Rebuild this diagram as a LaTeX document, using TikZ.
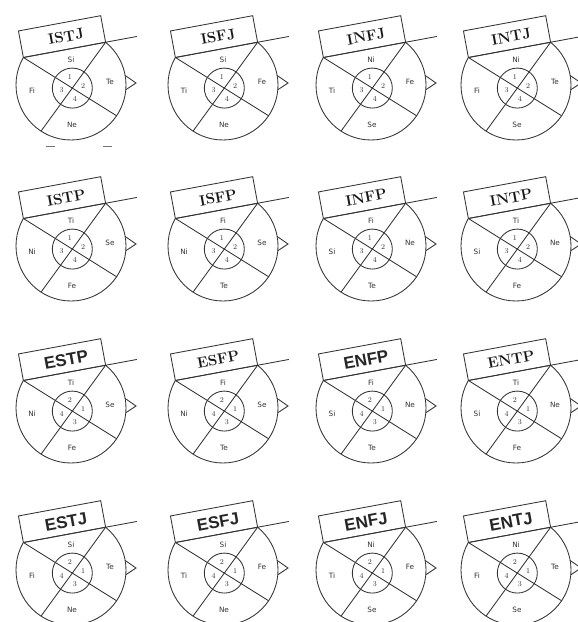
\documentclass[tikz,border=0pt]{standalone}
\usepackage{fontspec}
\newfontfamily\labsans{DejaVu Sans}
\newfontfamily\titsans{Liberation Sans}
\usetikzlibrary{calc}
\tikzset{
 ln/.style={line width=0.85pt, draw=black!80},
 fn/.style={font=\labsans\fontsize{7.3}{8}\selectfont, text=black!80, inner sep=0pt},
 num/.style={font=\fontsize{7.5}{8}\selectfont, text=black!80, inner sep=0pt},
 titleserif/.style={font=\fontsize{15}{15}\selectfont\bfseries, inner sep=0pt, text=black!90},
 titlesans/.style={font=\titsans\fontsize{17}{17}\selectfont\bfseries, inner sep=0pt, text=black!85},
 smudge/.style={line width=0.8pt, draw=black!55},
}
% #1 name, #2 x, #3 y, #4 title style, #5 title, #6 top, #7 right, #8 bottom, #9 left
\newcommand\mbti[9]{%
\begin{scope}[shift={(#2,#3)}]
 \coordinate (#1o) at (0,0);
 \coordinate (#1A) at (150:55pt);
 \coordinate (#1B) at (51:55pt);
 \coordinate (#1C) at (237:55pt);
 \coordinate (#1D) at (-34:55pt);
 \coordinate (#1i) at (intersection of #1A--#1D and #1B--#1C);
 \coordinate (#1TL) at ($(#1A)!27pt!90:(#1B)$);
 \coordinate (#1TR) at ($(#1B)!27pt!-90:(#1A)$);
 \coordinate (#1E) at ($(#1A)!1.38!(#1B)$);
 \coordinate (#1p1) at (10:55pt);
 \coordinate (#1p2) at (65,2);
 \coordinate (#1p3) at (-5:55pt);
 \draw[ln] (#1o) circle[radius=55pt];
 \draw[ln] (#1i) circle[radius=20pt];
 \draw[ln] (#1A) -- (#1D);
 \draw[ln] (#1B) -- (#1C);
 \filldraw[ln, fill=white] (#1A) -- (#1TL) -- (#1TR) -- (#1B) -- cycle;
 \draw[ln] (#1A) -- (#1E);
 \draw[ln] (#1p1) -- (#1p2) -- (#1p3);
 \node[#4, rotate=10.5] (#1t) at ($(#1A)!0.5!(#1TR)+(4,0)$) {#5};
 \node[fn] (#1top) at (0,25) {#6};
 \node[fn] (#1right) at (39,3) {#7};
 \node[fn] (#1bottom) at (1,-40) {#8};
 \node[fn] (#1left) at (-39,-6) {#9};
 \node[num] (#1n1) at ($(#1i)+(103:11pt)$) {\nT};
 \node[num] (#1n2) at ($(#1i)+(13:11pt)$) {\nR};
 \node[num] (#1n3) at ($(#1i)+(193:11pt)$) {\nL};
 \node[num] (#1n4) at ($(#1i)+(283:11pt)$) {\nB};
\end{scope}}
\begin{document}
\begin{tikzpicture}[x=1pt,y=1pt]
\useasboundingbox[fill=white] (0,0) rectangle (578,622);
\def\nT{1}\def\nR{2}\def\nB{4}\def\nL{3}
\mbti{istj}{71}{537}{titleserif}{ISTJ}{Si}{Te}{Ne}{Fi}
\mbti{isfj}{223}{537}{titleserif}{ISFJ}{Si}{Fe}{Ne}{Ti}
\mbti{infj}{371}{537}{titleserif}{INFJ}{Ni}{Fe}{Se}{Ti}
\mbti{intj}{516}{537}{titleserif}{INTJ}{Ni}{Te}{Se}{Fi}
\mbti{istp}{71}{376}{titleserif}{ISTP}{Ti}{Se}{Fe}{Ni}
\mbti{isfp}{223}{376}{titleserif}{ISFP}{Fi}{Se}{Te}{Ni}
\mbti{infp}{371}{376}{titleserif}{INFP}{Fi}{Ne}{Te}{Si}
\mbti{intp}{516}{376}{titleserif}{INTP}{Ti}{Ne}{Fe}{Si}
\def\nT{2}\def\nR{1}\def\nB{3}\def\nL{4}
\mbti{estp}{71}{214}{titlesans}{ESTP}{Ti}{Se}{Fe}{Ni}
\mbti{esfp}{223}{214}{titleserif}{ESFP}{Fi}{Se}{Te}{Ni}
\mbti{enfp}{371}{214}{titlesans}{ENFP}{Fi}{Ne}{Te}{Si}
\mbti{entp}{516}{214}{titleserif}{ENTP}{Ti}{Ne}{Fe}{Si}
\mbti{estj}{71}{52}{titlesans}{ESTJ}{Si}{Te}{Ne}{Fi}
\mbti{esfj}{223}{52}{titlesans}{ESFJ}{Si}{Fe}{Ne}{Ti}
\mbti{enfj}{371}{52}{titlesans}{ENFJ}{Ni}{Fe}{Se}{Ti}
\mbti{entj}{516}{52}{titlesans}{ENTJ}{Ni}{Te}{Se}{Fi}
\coordinate (m1a) at (46,476); \coordinate (m1b) at (55,476);
\coordinate (m2a) at (103,476); \coordinate (m2b) at (112,476);
\draw[smudge] (m1a) -- (m1b);
\draw[smudge] (m2a) -- (m2b);
\end{tikzpicture}
\end{document}
